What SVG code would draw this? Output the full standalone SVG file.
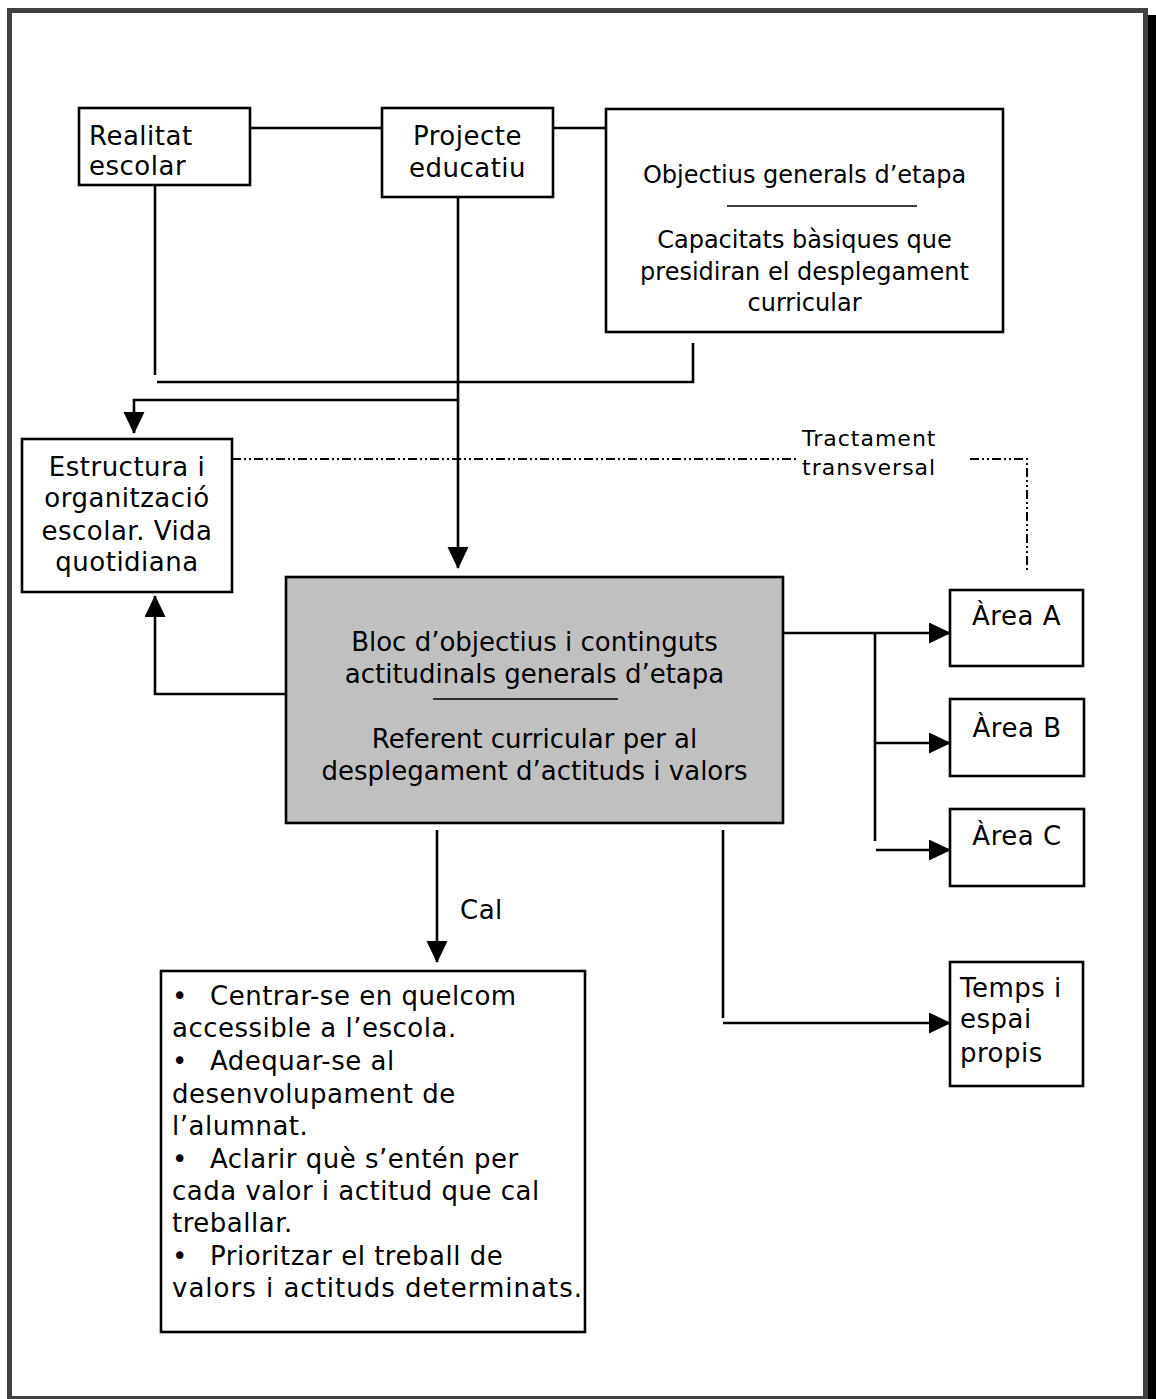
<svg xmlns="http://www.w3.org/2000/svg" width="1156" height="1399" viewBox="0 0 1156 1399">
<defs>
<style>
.box{fill:#fff;stroke:#000;stroke-width:2.6}
.grey{fill:#c0c0c0;stroke:#000;stroke-width:2.6}
.ln{fill:none;stroke:#000;stroke-width:2.6}
.dash{fill:none;stroke:#000;stroke-width:2;stroke-dasharray:9,3,2,3,2,3}
.sep{stroke:#000;stroke-width:1.5}
text{font-family:"DejaVu Sans",Verdana,sans-serif;font-size:26px;letter-spacing:0.5px;fill:#000}
.c{text-anchor:middle}
.s{font-size:22px;letter-spacing:1px}
.n{letter-spacing:0}
.o{font-size:24px;letter-spacing:0}
.w{letter-spacing:1px}
</style>
<marker id="ah" markerUnits="userSpaceOnUse" markerWidth="22" markerHeight="22" refX="21" refY="10.5" orient="auto">
<path d="M0,0 L22,10.5 L0,21 Z" fill="#000"/>
</marker>
</defs>
<rect x="0" y="0" width="1156" height="1399" fill="#fff"/>
<rect x="1148" y="15" width="8" height="1384" fill="#000"/>
<rect x="9.5" y="10.5" width="1136" height="1388" fill="none" stroke="#404040" stroke-width="5"/>

<g id="connectors">
<line class="ln" x1="250" y1="128" x2="382" y2="128"/>
<line class="ln" x1="553" y1="128" x2="606" y2="128"/>
<line class="ln" x1="155" y1="185" x2="155" y2="375"/>
<polyline class="ln" points="693,343 693,382 157,382"/>
<line class="ln" x1="458" y1="197" x2="458" y2="568" marker-end="url(#ah)"/>
<polyline class="ln" points="458,400 134,400 134,433" marker-end="url(#ah)"/>
<polyline class="ln" points="286,694 155,694 155,596" marker-end="url(#ah)"/>
<line class="ln" x1="783" y1="633" x2="950" y2="633" marker-end="url(#ah)"/>
<line class="ln" x1="875" y1="633" x2="875" y2="841"/>
<line class="ln" x1="875" y1="743" x2="950" y2="743" marker-end="url(#ah)"/>
<line class="ln" x1="876" y1="850" x2="950" y2="850" marker-end="url(#ah)"/>
<line class="ln" x1="437" y1="830" x2="437" y2="962" marker-end="url(#ah)"/>
<line class="ln" x1="723" y1="830" x2="723" y2="1018"/>
<line class="ln" x1="723" y1="1023" x2="950" y2="1023" marker-end="url(#ah)"/>
<line class="dash" x1="232" y1="459" x2="798" y2="459"/>
<polyline class="dash" points="970,459 1027,459 1027,572"/>
<text class="s" x="802" y="446">Tractament</text>
<text class="s" x="802" y="475">transversal</text>
<text x="460" y="919">Cal</text>
</g>

<g id="realitat">
<rect class="box" x="79" y="108" width="171" height="77"/>
<text x="89" y="145">Realitat</text>
<text x="89" y="175">escolar</text>
</g>

<g id="projecte">
<rect class="box" x="382" y="108" width="171" height="89"/>
<text class="c" x="467.5" y="145">Projecte</text>
<text class="c" x="467.5" y="177">educatiu</text>
</g>

<g id="objectius">
<rect class="box" x="606" y="109" width="397" height="223"/>
<text class="c o" x="804.5" y="183">Objectius generals d’etapa</text>
<line class="sep" x1="727" y1="206" x2="917" y2="206"/>
<text class="c o" x="804.5" y="248">Capacitats bàsiques que</text>
<text class="c o" x="804.5" y="280">presidiran el desplegament</text>
<text class="c o" x="804.5" y="311">curricular</text>
</g>

<g id="estructura">
<rect class="box" x="22" y="439" width="210" height="153"/>
<text class="c" x="127" y="476">Estructura i</text>
<text class="c" x="127" y="507">organització</text>
<text class="c" x="127" y="540">escolar. Vida</text>
<text class="c" x="127" y="571">quotidiana</text>
</g>

<g id="bloc">
<rect class="grey" x="286" y="577" width="497" height="246"/>
<text class="c n" x="534.5" y="651">Bloc d’objectius i continguts</text>
<text class="c n" x="534.5" y="683">actitudinals generals d’etapa</text>
<line class="sep" x1="433" y1="699" x2="618" y2="699"/>
<text class="c n" x="534.5" y="748">Referent curricular per al</text>
<text class="c n" x="534.5" y="780">desplegament d’actituds i valors</text>
</g>

<g id="areaA">
<rect class="box" x="950" y="590" width="133" height="76"/>
<text class="c" x="1016.5" y="625">Àrea A</text>
</g>
<g id="areaB">
<rect class="box" x="950" y="699" width="134" height="77"/>
<text class="c" x="1017" y="737">Àrea B</text>
</g>
<g id="areaC">
<rect class="box" x="950" y="809" width="134" height="77"/>
<text class="c" x="1017" y="845">Àrea C</text>
</g>

<g id="temps">
<rect class="box" x="950" y="962" width="133" height="124"/>
<text x="960" y="997">Temps i</text>
<text x="960" y="1028">espai</text>
<text x="960" y="1062">propis</text>
</g>

<g id="cal-list">
<rect class="box" x="161" y="971" width="424" height="361"/>
<text x="172" y="1005">•</text><text x="210" y="1005">Centrar-se en quelcom</text>
<text x="172" y="1037">accessible a l’escola.</text>
<text x="172" y="1070">•</text><text x="210" y="1070">Adequar-se al</text>
<text x="172" y="1103">desenvolupament de</text>
<text x="172" y="1135">l’alumnat.</text>
<text x="172" y="1168">•</text><text x="210" y="1168">Aclarir què s’entén per</text>
<text x="172" y="1200">cada valor i actitud que cal</text>
<text x="172" y="1232">treballar.</text>
<text x="172" y="1265">•</text><text x="210" y="1265">Prioritzar el treball de</text>
<text class="w" x="172" y="1297">valors i actituds determinats.</text>
</g>
</svg>
